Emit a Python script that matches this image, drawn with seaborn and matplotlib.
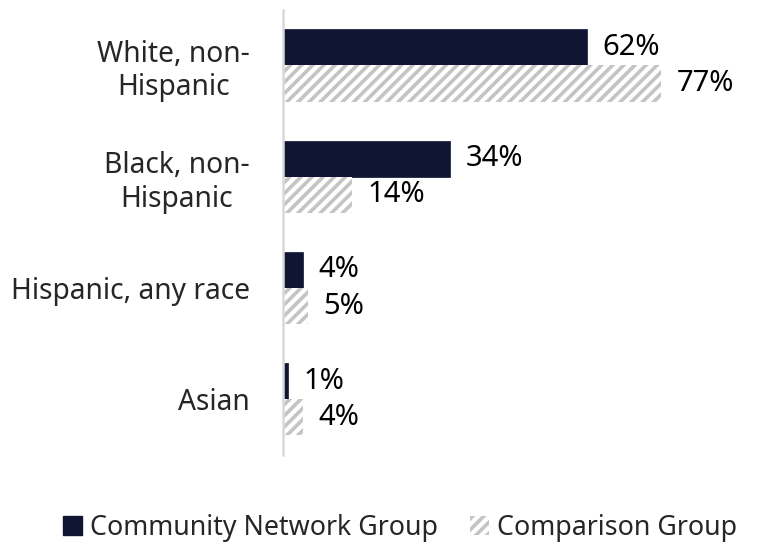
import matplotlib
matplotlib.use("Agg")
import matplotlib.pyplot as plt
import seaborn as sns
import pandas as pd
from matplotlib.patches import Patch

# Racial/ethnic makeup of the two groups (percent)
categories = ["White, non-\nHispanic", "Black, non-\nHispanic", "Hispanic, any race", "Asian"]
groups = ["Community Network Group", "Comparison Group"]
community = [62, 34, 4, 1]
comparison = [77, 14, 5, 4]

NAVY = "#0f1533"
HATCH_GRAY = "#c4c4c4"

df = pd.DataFrame({
    "category": categories * 2,
    "group": [groups[0]] * len(categories) + [groups[1]] * len(categories),
    "value": community + comparison,
})

sns.set_theme(style="white")
plt.rcParams["font.family"] = ["Noto Sans", "DejaVu Sans"]
plt.rcParams["hatch.linewidth"] = 2.6

fig = plt.figure(figsize=(7.59, 5.46), dpi=100)
ax = fig.add_axes([0.373, 0.167, 0.582, 0.815])

sns.barplot(
    data=df, y="category", x="value", hue="group", orient="h",
    order=categories, hue_order=groups,
    palette={groups[0]: NAVY, groups[1]: "white"},
    width=0.65, saturation=1, legend=False, ax=ax,
)

# Style the comparison bars as light gray diagonal hatching
for cont, grp in zip(ax.containers, groups):
    for p in cont.patches:
        if grp == groups[1]:
            p.set_facecolor("white")
            p.set_edgecolor(HATCH_GRAY)
            p.set_hatch("///")
            p.set_linewidth(0)
        else:
            p.set_edgecolor(NAVY)
            p.set_linewidth(0.5)
    ax.bar_label(cont, labels=[f"{v:.0f}%" for v in cont.datavalues],
                 padding=11, fontsize=21, color="black")

ax.set_xlim(0, 90)
ax.set_ylim(3.5, -0.5)
ax.set_xlabel("")
ax.set_ylabel("")
ax.set_xticks([])
ax.tick_params(axis="y", length=0, pad=24, labelsize=20.3)
for lbl in ax.get_yticklabels():
    lbl.set_multialignment("center")

for side in ["top", "right", "bottom"]:
    ax.spines[side].set_visible(False)
ax.spines["left"].set_color("#d9d9d9")
ax.spines["left"].set_linewidth(1.8)

handles = [
    Patch(facecolor=NAVY, edgecolor=NAVY, label=groups[0]),
    Patch(facecolor="white", edgecolor=HATCH_GRAY, hatch="///", linewidth=0, label=groups[1]),
]
fig.legend(handles=handles, loc="lower center", bbox_to_anchor=(0.527, -0.037),
           ncol=2, frameon=False, fontsize=19.3, handlelength=0.7, handleheight=0.7,
           handletextpad=0.3, columnspacing=1.2)

fig.savefig("out.png", dpi=100)
